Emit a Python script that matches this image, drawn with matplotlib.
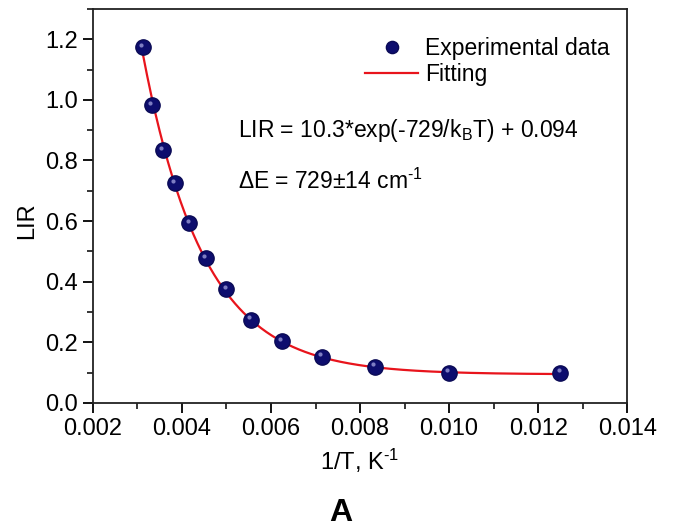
import numpy as np
import matplotlib
matplotlib.use("Agg")
import matplotlib.pyplot as plt
from matplotlib.ticker import MultipleLocator, FormatStrFormatter

plt.rcParams['font.family'] = ['Liberation Sans', 'DejaVu Sans']
plt.rcParams['mathtext.fontset'] = 'custom'
plt.rcParams['mathtext.rm'] = 'Liberation Sans'
plt.rcParams['mathtext.it'] = 'Liberation Sans'

# data
inv_T = [0.003125, 0.003333, 0.003571, 0.003846, 0.004167, 0.004545, 0.005,
         0.005556, 0.00625, 0.007143, 0.008333, 0.01, 0.0125]
lir = [1.174, 0.983, 0.834, 0.725, 0.593, 0.478, 0.376, 0.274, 0.204, 0.152,
       0.119, 0.099, 0.099]
fit_A = 10.3
fit_E = 729.0
fit_C = 0.094

fig = plt.figure(figsize=(6.73, 5.28), dpi=100)
ax = fig.add_axes([0.138, 0.237, 0.794, 0.746])

xf = np.linspace(min(inv_T), max(inv_T), 400)
yf = fit_A * np.exp(-fit_E * xf) + fit_C
ax.plot(xf, yf, color='#e8141c', lw=1.6, zorder=2, label='Fitting')
ax.plot(inv_T, lir, 'o', ms=11, color='#0d0d6e', mec='#0a0a55', zorder=3,
        label='Experimental data')
# highlight on spheres
ax.plot(np.array(inv_T) - 0.00004, np.array(lir) + 0.008, 'o', ms=3,
        color='#9a9ad8', mec='none', alpha=0.8, zorder=4)

ax.set_xlim(0.002, 0.014)
ax.set_ylim(0.0, 1.3)
ax.xaxis.set_major_locator(MultipleLocator(0.002))
ax.xaxis.set_minor_locator(MultipleLocator(0.001))
ax.yaxis.set_major_locator(MultipleLocator(0.2))
ax.yaxis.set_minor_locator(MultipleLocator(0.1))
ax.xaxis.set_major_formatter(FormatStrFormatter('%.3f'))
ax.yaxis.set_major_formatter(FormatStrFormatter('%.1f'))
ax.tick_params(which='major', direction='out', length=7, width=1.3, labelsize=17,
               top=False, right=False, pad=4)
ax.tick_params(which='minor', direction='out', length=4, width=1.1,
               top=False, right=False)
for s in ax.spines.values():
    s.set_linewidth(1.3)
    s.set_color('#222222')

ax.set_xlabel('1/T, K$^{\\text{-}1}$', fontsize=17, labelpad=5)
ax.set_ylabel('LIR', fontsize=17, labelpad=6)
ax.yaxis.set_label_coords(-0.102, 0.462)

h, l = ax.get_legend_handles_labels()
leg = ax.legend([h[1], h[0]], [l[1], l[0]], loc='upper right', frameon=False,
                fontsize=16.5, handlelength=2.3, handletextpad=0.3, labelspacing=0.15,
                bbox_to_anchor=(0.995, 0.967), borderaxespad=0.25, markerscale=0.8)

ax.text(0.00526, 0.90, 'LIR = 10.3*exp(-729/k$_\\mathrm{B}$T) + 0.094', fontsize=16.5,
        va='center', ha='left')
ax.text(0.00526, 0.73, '$\\Delta$E = 729$\\pm$14 cm$^{\\text{-}1}$', fontsize=16.5,
        va='center', ha='left')

fig.text(0.507, 0.013, 'A', fontsize=23, fontweight='bold', ha='center', va='baseline')

fig.savefig('out.png', dpi=100)
